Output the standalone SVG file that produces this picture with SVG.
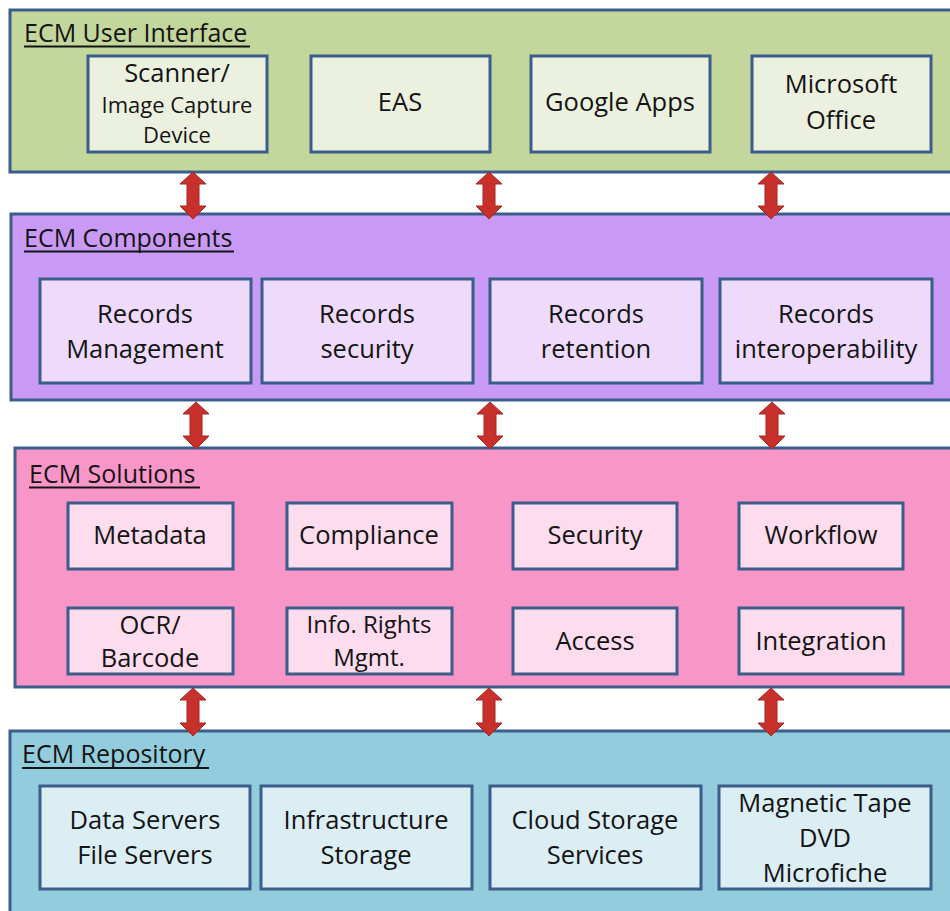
<svg xmlns="http://www.w3.org/2000/svg" width="950" height="911" viewBox="0 0 950 911">
  <defs>
    <style>
      .layer { stroke: #3a5d8c; stroke-width: 3; }
      .box { stroke: #3a5d8c; stroke-width: 3; }
      .l1 { fill: #c3d69b; }
      .l2 { fill: #c99af5; }
      .l3 { fill: #f996c8; }
      .l4 { fill: #93cddd; }
      .b1 { fill: #ebf1de; }
      .b2 { fill: #eedbfb; }
      .b3 { fill: #fddcee; }
      .b4 { fill: #dbeef4; }
      text { font-family: "Open Sans", "Liberation Sans", sans-serif; fill: #141414; font-weight: 500; }
      .title { font-size: 25px; }
      .ul { stroke: #141414; stroke-width: 2; }
      .lbl { font-size: 25.5px; text-anchor: middle; }
      .sm { font-size: 22px; text-anchor: middle; }
      .arrow { fill: #c8302c; stroke: #a52622; stroke-width: 1; }
    </style>
  </defs>

  <rect width="950" height="911" fill="#ffffff"/>

  <!-- Layer 1: user interface -->
  <g id="layer-ui">
    <rect class="layer l1" x="10" y="10" width="960" height="162"/>
    <text class="title" x="24" y="42">ECM User Interface</text>
    <line class="ul" x1="24" y1="46.5" x2="250" y2="46.5"/>
  </g>
  <g id="ui-scanner">
    <rect class="box b1" x="88" y="56" width="179" height="96"/>
    <text class="lbl" x="177" y="82">Scanner/</text>
    <text class="sm" x="177" y="113">Image Capture</text>
    <text class="sm" x="177" y="143">Device</text>
  </g>
  <g id="ui-eas">
    <rect class="box b1" x="311" y="56" width="179" height="96"/>
    <text class="lbl" x="400" y="111">EAS</text>
  </g>
  <g id="ui-google">
    <rect class="box b1" x="531" y="56" width="179" height="96"/>
    <text class="lbl" x="620" y="111">Google Apps</text>
  </g>
  <g id="ui-office">
    <rect class="box b1" x="752" y="56" width="179" height="96"/>
    <text class="lbl" x="841" y="93">Microsoft</text>
    <text class="lbl" x="841" y="129">Office</text>
  </g>

  <!-- Layer 2: components -->
  <g id="layer-components">
    <rect class="layer l2" x="11" y="214" width="960" height="186"/>
    <text class="title" x="24" y="247">ECM Components</text>
    <line class="ul" x1="24" y1="251.5" x2="234" y2="251.5"/>
  </g>
  <g id="comp-management">
    <rect class="box b2" x="40" y="279" width="211" height="104"/>
    <text class="lbl" x="145" y="323">Records</text>
    <text class="lbl" x="145" y="358">Management</text>
  </g>
  <g id="comp-security">
    <rect class="box b2" x="262" y="279" width="211" height="104"/>
    <text class="lbl" x="367" y="323">Records</text>
    <text class="lbl" x="367" y="358">security</text>
  </g>
  <g id="comp-retention">
    <rect class="box b2" x="490" y="279" width="212" height="104"/>
    <text class="lbl" x="596" y="323">Records</text>
    <text class="lbl" x="596" y="358">retention</text>
  </g>
  <g id="comp-interop">
    <rect class="box b2" x="720" y="279" width="212" height="104"/>
    <text class="lbl" x="826" y="323">Records</text>
    <text class="lbl" x="826" y="358">interoperability</text>
  </g>

  <!-- Layer 3: solutions -->
  <g id="layer-solutions">
    <rect class="layer l3" x="15" y="448" width="960" height="239"/>
    <text class="title" x="29" y="483">ECM Solutions</text>
    <line class="ul" x1="29" y1="487.5" x2="200" y2="487.5"/>
  </g>
  <g id="sol-metadata">
    <rect class="box b3" x="68" y="503" width="165" height="66"/>
    <text class="lbl" x="150" y="544">Metadata</text>
  </g>
  <g id="sol-compliance">
    <rect class="box b3" x="287" y="503" width="165" height="66"/>
    <text class="lbl" x="369" y="544">Compliance</text>
  </g>
  <g id="sol-security">
    <rect class="box b3" x="513" y="503" width="164" height="66"/>
    <text class="lbl" x="595" y="544">Security</text>
  </g>
  <g id="sol-workflow">
    <rect class="box b3" x="739" y="503" width="164" height="66"/>
    <text class="lbl" x="821" y="544">Workflow</text>
  </g>
  <g id="sol-ocr">
    <rect class="box b3" x="68" y="608" width="165" height="66"/>
    <text class="lbl" x="150" y="634">OCR/</text>
    <text class="lbl" x="150" y="667">Barcode</text>
  </g>
  <g id="sol-irm">
    <rect class="box b3" x="287" y="608" width="165" height="66"/>
    <text class="lbl" x="369" y="633" style="font-size:24px">Info. Rights</text>
    <text class="lbl" x="369" y="666" style="font-size:24px">Mgmt.</text>
  </g>
  <g id="sol-access">
    <rect class="box b3" x="513" y="608" width="164" height="66"/>
    <text class="lbl" x="595" y="650">Access</text>
  </g>
  <g id="sol-integration">
    <rect class="box b3" x="739" y="608" width="164" height="66"/>
    <text class="lbl" x="821" y="650">Integration</text>
  </g>

  <!-- Layer 4: repository -->
  <g id="layer-repository">
    <rect class="layer l4" x="10" y="731" width="960" height="200"/>
    <text class="title" x="22" y="763">ECM Repository</text>
    <line class="ul" x1="22" y1="768" x2="209" y2="768"/>
  </g>
  <g id="repo-servers">
    <rect class="box b4" x="40" y="786" width="210" height="103"/>
    <text class="lbl" x="145" y="829">Data Servers</text>
    <text class="lbl" x="145" y="864">File Servers</text>
  </g>
  <g id="repo-infra">
    <rect class="box b4" x="261" y="786" width="211" height="103"/>
    <text class="lbl" x="366" y="829">Infrastructure</text>
    <text class="lbl" x="366" y="864">Storage</text>
  </g>
  <g id="repo-cloud">
    <rect class="box b4" x="490" y="786" width="211" height="103"/>
    <text class="lbl" x="595" y="829">Cloud Storage</text>
    <text class="lbl" x="595" y="864">Services</text>
  </g>
  <g id="repo-media">
    <rect class="box b4" x="719" y="786" width="212" height="103"/>
    <text class="lbl" x="825" y="812">Magnetic Tape</text>
    <text class="lbl" x="825" y="847">DVD</text>
    <text class="lbl" x="825" y="882">Microfiche</text>
  </g>

  <!-- Two-way arrows between layers -->
  <g id="connectors">
    <path class="arrow" d="M193 172 L206 184 L199 184 L199 206 L206 206 L193 219 L180 206 L187 206 L187 184 L180 184 Z"/>
    <path class="arrow" d="M489 172 L502 184 L495 184 L495 206 L502 206 L489 219 L476 206 L483 206 L483 184 L476 184 Z"/>
    <path class="arrow" d="M771 172 L784 184 L777 184 L777 206 L784 206 L771 219 L758 206 L765 206 L765 184 L758 184 Z"/>

    <path class="arrow" d="M196 402 L209 414 L202 414 L202 436 L209 436 L196 449 L183 436 L190 436 L190 414 L183 414 Z"/>
    <path class="arrow" d="M490 402 L503 414 L496 414 L496 436 L503 436 L490 449 L477 436 L484 436 L484 414 L477 414 Z"/>
    <path class="arrow" d="M772 402 L785 414 L778 414 L778 436 L785 436 L772 449 L759 436 L766 436 L766 414 L759 414 Z"/>

    <path class="arrow" d="M193 688 L206 700 L199 700 L199 723 L206 723 L193 736 L180 723 L187 723 L187 700 L180 700 Z"/>
    <path class="arrow" d="M489 688 L502 700 L495 700 L495 723 L502 723 L489 736 L476 723 L483 723 L483 700 L476 700 Z"/>
    <path class="arrow" d="M771 688 L784 700 L777 700 L777 723 L784 723 L771 736 L758 723 L765 723 L765 700 L758 700 Z"/>
  </g>
</svg>
